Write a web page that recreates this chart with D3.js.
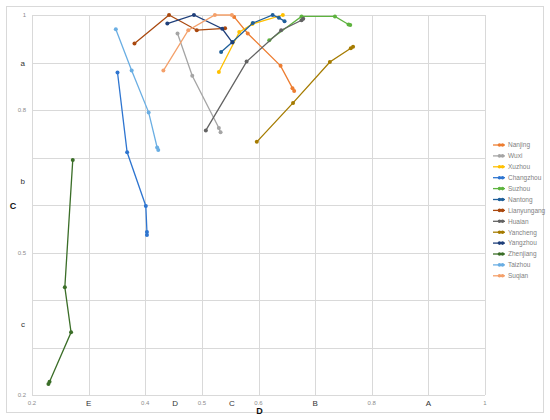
<!DOCTYPE html>
<html>
<head>
<meta charset="utf-8">
<script src="https://cdn.jsdelivr.net/npm/d3@7"></script>
<style>
  body { margin: 0; background: #fff; }
  svg { font-family: "Liberation Sans", Arial, sans-serif; }
  .grid line { stroke: #d9d9d9; stroke-width: 1; }
  .tick-num { fill: #8c8c8c; font-size: 6px; }
  .tick-letter { fill: #333; font-size: 8px; }
  .axis-title { fill: #111; font-size: 9px; font-weight: bold; }
  .legend text { fill: #7f7f7f; font-size: 6.5px; }
</style>
</head>
<body>
<svg class="chart" width="550" height="420"></svg>
<script>
// city names and colours, same order as the legend
const cities = ['Nanjing', 'Wuxi', 'Xuzhou', 'Changzhou', 'Suzhou', 'Nantong', 'Lianyungang',
  'Huaian', 'Yancheng', 'Yangzhou', 'Zhenjiang', 'Taizhou', 'Suqian']
const colors = ['#ED7D31', '#A5A5A5', '#FFC000', '#2E75D0', '#5DB33E', '#1F5F99', '#A9480E',
  '#636363', '#A57B00', '#1F3F7A', '#3B6E28', '#6AAEE3', '#F4A06A']

// [D, C] pairs per city
const nanjing = [[0.557, 0.996], [0.581, 0.961], [0.639, 0.893], [0.660, 0.846], [0.663, 0.840]]
const wuxi = [[0.457, 0.961], [0.483, 0.872], [0.530, 0.762], [0.533, 0.753]]
const xuzhou = [[0.530, 0.880], [0.566, 0.964], [0.589, 0.981], [0.643, 1.0]]
const changzhou = [[0.351, 0.879], [0.368, 0.711], [0.401, 0.598], [0.403, 0.543], [0.403, 0.537]]
const suzhou = [[0.619, 0.947], [0.676, 0.997], [0.735, 0.997], [0.759, 0.980], [0.762, 0.979]]
const nantong = [[0.534, 0.922], [0.554, 0.943], [0.590, 0.983], [0.625, 1.0], [0.636, 0.994], [0.646, 0.987]]
const lianyungang = [[0.381, 0.940], [0.442, 1.0], [0.491, 0.968], [0.541, 0.972]]
const huaian = [[0.507, 0.757], [0.579, 0.902], [0.640, 0.968], [0.676, 0.989], [0.679, 0.992]]
const yancheng = [[0.597, 0.733], [0.661, 0.815], [0.726, 0.901], [0.763, 0.930], [0.767, 0.933]]
const yangzhou = [[0.439, 0.982], [0.486, 1.0], [0.536, 0.971], [0.554, 0.942]]
const zhenjiang = [[0.272, 0.695], [0.258, 0.427], [0.269, 0.332], [0.231, 0.228], [0.229, 0.223]]
const taizhou = [[0.348, 0.970], [0.376, 0.883], [0.406, 0.795], [0.421, 0.721], [0.423, 0.716]]
const suqian = [[0.432, 0.883], [0.476, 0.968], [0.523, 1.0], [0.553, 1.0]]

const seriesValues = [nanjing, wuxi, xuzhou, changzhou, suzhou, nantong, lianyungang,
  huaian, yancheng, yangzhou, zhenjiang, taizhou, suqian]

// axis ticks: numbers shown, letters written over the hidden ones
const xTicks = [0.2, 0.3, 0.4, 0.5, 0.6, 0.7, 0.8, 0.9, 1]
const xTickLabels = [0.2, 0.4, 0.5, 0.6, 0.8, 1]
const xLetters = [['E', 0.3], ['D', 0.453], ['C', 0.553], ['B', 0.7], ['A', 0.9]]
const yTicks = [0.2, 0.3, 0.4, 0.5, 0.6, 0.7, 0.8, 0.9, 1]
const yTickLabels = [0.2, 0.5, 0.8, 1]
const yLetters = [['a', 0.9], ['b', 0.65], ['c', 0.35]]

const margin = { top: 15, right: 65, bottom: 25, left: 32 }
const width = 550 - margin.left - margin.right
const height = 420 - margin.top - margin.bottom

const svg = d3.select('svg.chart')

// outer chart frame
svg.append('rect')
  .attr('x', 6.5).attr('y', 6.5)
  .attr('width', 537).attr('height', 406)
  .attr('fill', 'none').attr('stroke', '#d9d9d9')

const x = d3.scaleLinear().domain([0.2, 1]).range([margin.left, margin.left + width])
const y = d3.scaleLinear().domain([0.2, 1]).range([margin.top + height, margin.top])

const grid = svg.append('g').attr('class', 'grid')
grid.selectAll('line.v').data(xTicks).enter().append('line')
  .attr('x1', (d) => Math.round(x(d)) + 0.5).attr('x2', (d) => Math.round(x(d)) + 0.5)
  .attr('y1', y(1)).attr('y2', y(0.2))
grid.selectAll('line.h').data(yTicks).enter().append('line')
  .attr('y1', (d) => Math.round(y(d)) + 0.5).attr('y2', (d) => Math.round(y(d)) + 0.5)
  .attr('x1', x(0.2)).attr('x2', x(1))

svg.selectAll('text.xnum').data(xTickLabels).enter().append('text')
  .attr('class', 'tick-num')
  .attr('x', (d) => x(d)).attr('y', y(0.2) + 10)
  .attr('text-anchor', 'middle')
  .text((d) => d)

svg.selectAll('text.xlet').data(xLetters).enter().append('text')
  .attr('class', 'tick-letter')
  .attr('x', (d) => x(d[1])).attr('y', y(0.2) + 10.5)
  .attr('text-anchor', 'middle')
  .text((d) => d[0])

svg.selectAll('text.ynum').data(yTickLabels).enter().append('text')
  .attr('class', 'tick-num')
  .attr('x', x(0.2) - 6).attr('y', (d) => y(d) + 2)
  .attr('text-anchor', 'end')
  .text((d) => d)

svg.selectAll('text.ylet').data(yLetters).enter().append('text')
  .attr('class', 'tick-letter')
  .attr('x', x(0.2) - 7).attr('y', (d) => y(d[1]) + 3)
  .attr('text-anchor', 'end')
  .text((d) => d[0])

svg.append('text').attr('class', 'axis-title')
  .attr('x', x(0.6) + 1).attr('y', 414)
  .attr('text-anchor', 'middle').text('D')
svg.append('text').attr('class', 'axis-title')
  .attr('x', 13).attr('y', y(0.6) + 4)
  .attr('text-anchor', 'middle').text('C')

// series lines and markers
const line = d3.line().x((d) => x(d[0])).y((d) => y(d[1]))

const groups = svg.append('g').selectAll('g')
  .data(seriesValues)
  .enter()
  .append('g')

groups.append('path')
  .attr('d', (d) => line(d))
  .attr('fill', 'none')
  .attr('stroke', (d, i) => colors[i])
  .attr('stroke-width', 1.3)

groups.each(function(d, i) {
  d3.select(this).selectAll('circle')
    .data(d)
    .enter()
    .append('circle')
    .attr('cx', (p) => x(p[0]))
    .attr('cy', (p) => y(p[1]))
    .attr('r', 2)
    .attr('fill', colors[i])
})

// legend
const legend = svg.append('g').attr('class', 'legend')
  .selectAll('g')
  .data(cities)
  .enter()
  .append('g')
  .attr('transform', (d, i) => `translate(493, ${145 + i * 10.9})`)

legend.append('line')
  .attr('x1', 0).attr('x2', 12).attr('y1', 0).attr('y2', 0)
  .attr('stroke', (d, i) => colors[i]).attr('stroke-width', 1.3)
legend.append('circle').attr('cx', 6.5).attr('cy', 0).attr('r', 1.8)
  .attr('fill', (d, i) => colors[i])
legend.append('circle').attr('cx', 9.5).attr('cy', 0).attr('r', 1.8)
  .attr('fill', (d, i) => colors[i])
legend.append('text')
  .attr('x', 15).attr('y', 2.3)
  .text((d) => d)
</script>
</body>
</html>
